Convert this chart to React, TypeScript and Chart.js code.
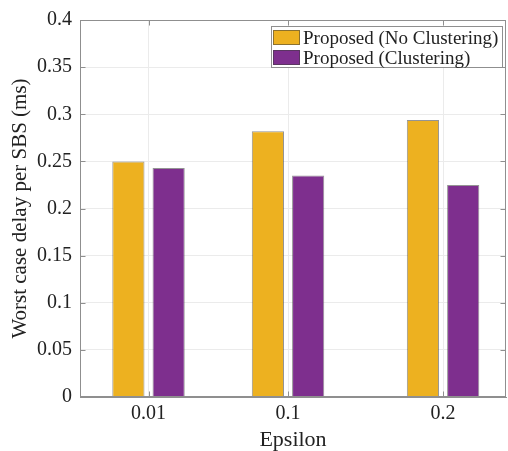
import React, { useEffect, useRef } from "react";
import { Chart, registerables } from "chart.js";

Chart.register(...registerables);

// ---- data ----
const epsilonValues = [0.01, 0.1, 0.2];
const xTickLabels = ["0.01", "0.1", "0.2"];
const noClusteringDelay = [0.25, 0.282, 0.294];
const clusteringDelay = [0.243, 0.235, 0.225];
const yTickValues = [0, 0.05, 0.1, 0.15, 0.2, 0.25, 0.3, 0.35, 0.4];
const yTickLabels = ["0", "0.05", "0.1", "0.15", "0.2", "0.25", "0.3", "0.35", "0.4"];
const seriesLabels = ["Proposed (No Clustering)", "Proposed (Clustering)"];
const xAxisTitle = "Epsilon";
const yAxisTitle = "Worst case delay per SBS (ms)";
const xMin = -0.0342;
const xMax = 0.2406;
const yMin = 0;
const yMax = 0.4;

// ---- styles ----
const FONT = "'Liberation Serif', 'Times New Roman', serif";
const TEXT = "#222222";
const AXIS = "#8f8f8f";
const GRID = "#ebebeb";
const COLORS = ["#EDB120", "#7E2F8E"];
const EDGE = "rgba(60,60,60,0.55)";

const framePlugin = {
  id: "frameAndLegend",
  afterDraw(chart: any) {
    const { ctx, chartArea: a, scales } = chart;
    ctx.save();
    // axes box
    ctx.strokeStyle = AXIS;
    ctx.lineWidth = 1;
    const l = Math.round(a.left) + 0.5;
    const r = Math.round(a.right) - 0.5;
    const t = Math.round(a.top) + 0.5;
    const b = Math.round(a.bottom) - 0.5;
    ctx.strokeRect(l, t, r - l, b - t);
    // inward tick marks
    const tl = 5;
    ctx.beginPath();
    scales.x.ticks.forEach((tk: any) => {
      const px = Math.round(scales.x.getPixelForValue(tk.value)) + 0.5;
      ctx.moveTo(px, b);
      ctx.lineTo(px, b - tl);
      ctx.moveTo(px, t);
      ctx.lineTo(px, t + tl);
    });
    scales.y.ticks.forEach((tk: any) => {
      const py = Math.round(scales.y.getPixelForValue(tk.value)) + 0.5;
      ctx.moveTo(l, py);
      ctx.lineTo(l + tl, py);
      ctx.moveTo(r, py);
      ctx.lineTo(r - tl, py);
    });
    ctx.stroke();

    // legend box
    ctx.font = `19px ${FONT}`;
    const ds = chart.data.datasets;
    let maxW = 0;
    ds.forEach((d: any) => {
      maxW = Math.max(maxW, ctx.measureText(d.label).width);
    });
    const boxW = Math.round(32 + maxW + 4);
    const boxH = 41;
    const boxRight = Math.round(a.right) - 4;
    const boxLeft = boxRight - boxW;
    const boxTop = Math.round(a.top) + 6;
    ctx.fillStyle = "#ffffff";
    ctx.fillRect(boxLeft, boxTop, boxW, boxH);
    ctx.strokeStyle = AXIS;
    ctx.strokeRect(boxLeft + 0.5, boxTop + 0.5, boxW, boxH);
    ds.forEach((d: any, i: number) => {
      const sy = boxTop + 4 + i * 20;
      ctx.fillStyle = d.backgroundColor;
      ctx.fillRect(boxLeft + 2, sy, 27, 15);
      ctx.strokeStyle = EDGE;
      ctx.strokeRect(boxLeft + 2.5, sy + 0.5, 26, 14);
      ctx.fillStyle = TEXT;
      ctx.textBaseline = "alphabetic";
      ctx.textAlign = "left";
      ctx.fillText(d.label, boxLeft + 32, boxTop + 18 + i * 19.5);
    });
    ctx.restore();
  },
};

export default function App() {
  const ref = useRef<HTMLCanvasElement | null>(null);

  useEffect(() => {
    if (!ref.current) return;
    const makePoints = (ys: number[]) => epsilonValues.map((x, i) => ({ x, y: ys[i] }));
    const chart = new Chart(ref.current, {
      type: "bar",
      data: {
        datasets: [
          {
            label: seriesLabels[0],
            data: makePoints(noClusteringDelay),
            backgroundColor: COLORS[0],
            borderColor: EDGE,
            borderWidth: 1,
          },
          {
            label: seriesLabels[1],
            data: makePoints(clusteringDelay),
            backgroundColor: COLORS[1],
            borderColor: EDGE,
            borderWidth: 1,
          },
        ],
      } as any,
      options: {
        responsive: false,
        animation: false,
        categoryPercentage: 0.577,
        barPercentage: 0.8,
        layout: { padding: { left: 0, top: 14, right: 2, bottom: 0 } },
        plugins: { legend: { display: false }, tooltip: { enabled: false } },
        scales: {
          x: {
            type: "linear",
            min: xMin,
            max: xMax,
            offset: false,
            grid: { color: GRID, drawTicks: false, offset: false },
            border: { display: true, color: AXIS },
            afterBuildTicks: (s: any) => {
              s.ticks = epsilonValues.map((v) => ({ value: v }));
            },
            afterFit: (s: any) => {
              s.height = 54;
            },
            ticks: {
              padding: 5,
              color: TEXT,
              font: { family: FONT, size: 20 },
              maxRotation: 0,
              autoSkip: false,
              callback: (_v: any, i: number) => xTickLabels[i],
            },
            title: {
              display: true,
              text: xAxisTitle,
              color: TEXT,
              font: { family: FONT, size: 22, lineHeight: 1 },
              padding: { top: 0, bottom: 0 },
            },
          },
          y: {
            min: yMin,
            max: yMax,
            grid: { color: GRID, drawTicks: false },
            border: { display: true, color: AXIS },
            afterBuildTicks: (s: any) => {
              s.ticks = yTickValues.map((v) => ({ value: v }));
            },
            afterFit: (s: any) => {
              s.width = 80;
            },
            ticks: {
              padding: 8,
              color: TEXT,
              font: { family: FONT, size: 20 },
              autoSkip: false,
              callback: (_v: any, i: number) => yTickLabels[i],
            },
            title: {
              display: true,
              text: yAxisTitle,
              color: TEXT,
              font: { family: FONT, size: 21, lineHeight: 1 },
              padding: { top: 10, bottom: 0 },
            },
          },
        },
      } as any,
      plugins: [framePlugin],
    });
    return () => chart.destroy();
  }, []);

  return (
    <div style={{ position: "absolute", left: 0, top: 0, width: 508, height: 451, background: "#fff" }}>
      <canvas ref={ref} width={508} height={451} style={{ display: "block" }} />
    </div>
  );
}
